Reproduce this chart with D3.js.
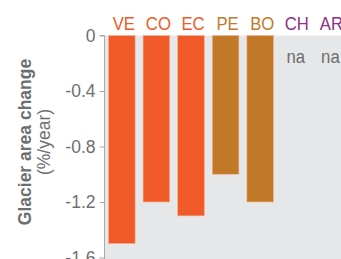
<!DOCTYPE html>
<html>
<head>
<meta charset="utf-8">
<script src="https://cdn.jsdelivr.net/npm/d3@7"></script>
<style>
  html, body { margin: 0; padding: 0; background: #fff; }
  svg { display: block; font-family: "Liberation Sans", Arial, sans-serif; }
</style>
</head>
<body>
<svg id="chart" width="341" height="259"></svg>
<script>
  const countries = ["VE", "CO", "EC", "PE", "BO", "CH", "AR"];
  const areaChange = [-1.5, -1.2, -1.3, -1.0, -1.2, null, null];
  const regionColor = ["#f05a28", "#f05a28", "#f05a28", "#c27a29", "#c27a29", "#8d3183", "#8d3183"];
  const yTicks = [0, -0.4, -0.8, -1.2, -1.6];

  (function () {
    const svg = d3.select("#chart");
    const plotLeft = 104.5, plotTop = 35.5;

    const x = d3.scaleBand()
      .domain(countries)
      .range([plotLeft, plotLeft + 7 * 34.6])
      .paddingInner(0.23)
      .paddingOuter(0.115);
    const y = d3.scaleLinear().domain([0, -1.6]).range([plotTop, plotTop + 222]);

    // plot background
    svg.append("rect")
      .attr("x", plotLeft)
      .attr("y", plotTop)
      .attr("width", 341 - plotLeft)
      .attr("height", 259 - plotTop)
      .attr("fill", "#e6e7e8");

    const yAxis = svg.append("g")
      .attr("transform", `translate(${plotLeft},0)`)
      .call(d3.axisLeft(y).tickValues(yTicks).tickSize(5).tickPadding(4)
        .tickFormat(d => d === 0 ? "0" : d3.format(".1f")(d).replace("−", "-")));
    yAxis.select(".domain").attr("stroke", "#a7a9ac").attr("d", `M-5,${plotTop}H0V${y(-1.75)}`);
    yAxis.selectAll(".tick line").attr("stroke", "#a7a9ac");
    yAxis.selectAll(".tick text")
      .attr("fill", "#6d6e71")
      .attr("font-size", 17.5)
      .attr("font-family", "Liberation Sans, Arial, sans-serif");

    // bars
    const data = countries.map((c, i) => ({ c, v: areaChange[i], color: regionColor[i] }));
    svg.selectAll(".bar")
      .data(data.filter(d => d.v !== null))
      .join("rect")
      .attr("class", "bar")
      .attr("x", d => x(d.c))
      .attr("y", y(0))
      .attr("width", x.bandwidth())
      .attr("height", d => y(d.v) - y(0))
      .attr("fill", d => d.color)
      .attr("stroke", "#f6b49a")
      .attr("stroke-width", 0.6);

    // category labels (slightly condensed)
    svg.selectAll(".cat")
      .data(data)
      .join("text")
      .attr("class", "cat")
      .attr("transform", d => `translate(${x(d.c) + x.bandwidth() / 2 + 2},30) scale(0.88,1)`)
      .attr("text-anchor", "middle")
      .attr("font-size", 19)
      .attr("fill", d => d.color)
      .text(d => d.c);

    // na labels
    svg.selectAll(".na")
      .data(data.filter(d => d.v === null))
      .join("text")
      .attr("class", "na")
      .attr("transform", d => `translate(${x(d.c) + x.bandwidth() / 2 + 1},63) scale(0.88,1)`)
      .attr("text-anchor", "middle")
      .attr("font-size", 19)
      .attr("fill", "#6d6e71")
      .text("na");

    // y title
    const title = svg.append("text")
      .attr("transform", "translate(0,142) rotate(-90)")
      .attr("text-anchor", "middle")
      .attr("fill", "#6d6e71")
      .attr("font-size", 17.5);
    title.append("tspan").attr("x", 0).attr("y", 31).attr("font-weight", "bold").text("Glacier area change");
    title.append("tspan").attr("x", 0).attr("y", 50).text("(%/year)");
  })();
</script>
</body>
</html>
